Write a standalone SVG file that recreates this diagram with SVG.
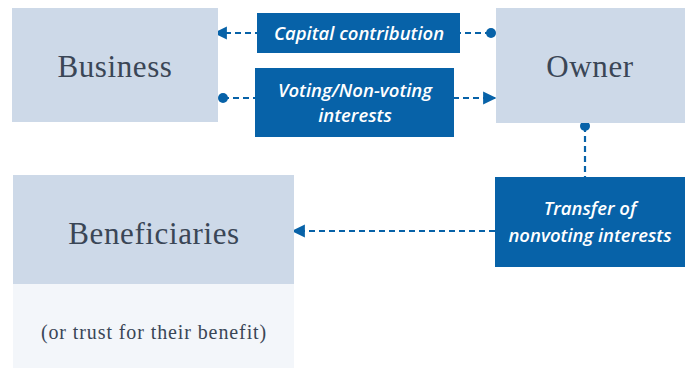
<svg xmlns="http://www.w3.org/2000/svg" width="689" height="368" viewBox="0 0 689 368">
  <style>
    .entity { fill: #cdd9e8; }
    .entity-sub { fill: #f3f6fa; }
    .flow { fill: #0762a8; }
    .entity-label { font-family: "Liberation Serif", "DejaVu Serif", serif; font-size: 31px; letter-spacing: 0.6px; fill: #3a4656; text-anchor: middle; }
    .entity-note { font-family: "Liberation Serif", "DejaVu Serif", serif; font-size: 20px; letter-spacing: 0.9px; fill: #3a4656; text-anchor: middle; }
    .flow-label { font-family: "Open Sans", "Liberation Sans", sans-serif; font-size: 18.5px; font-weight: 600; font-style: italic; fill: #ffffff; text-anchor: middle; }
    .link { stroke: #0762a8; stroke-width: 2.2; stroke-dasharray: 6 4; fill: none; }
    .dot { fill: #0762a8; }
  </style>
  <defs>
    <marker id="arrow" viewBox="0 0 10 10" refX="9" refY="5" markerWidth="6" markerHeight="6" orient="auto" markerUnits="strokeWidth">
      <path d="M0,0 L10,5 L0,10 z" fill="#0762a8"/>
    </marker>
  </defs>

  <rect width="689" height="368" fill="#ffffff"/>

  <g id="connectors">
    <!-- Owner to Business: capital contribution -->
    <line class="link" x1="491" y1="33" x2="215" y2="33" marker-end="url(#arrow)"/>
    <circle class="dot" cx="491" cy="33" r="5"/>
    <!-- Business to Owner: voting / non-voting interests -->
    <line class="link" x1="223" y1="98" x2="495" y2="98" marker-end="url(#arrow)"/>
    <circle class="dot" cx="223" cy="98" r="5"/>
    <!-- Owner down to the transfer box -->
    <line class="link" x1="585" y1="126" x2="585" y2="177"/>
    <circle class="dot" cx="585" cy="126" r="5"/>
    <!-- Transfer box to Beneficiaries -->
    <line class="link" x1="495" y1="231" x2="293" y2="231" marker-end="url(#arrow)"/>
  </g>

  <g id="business">
    <rect class="entity" x="12" y="8" width="206" height="114"/>
    <text class="entity-label" x="115" y="77">Business</text>
  </g>

  <g id="owner">
    <rect class="entity" x="496" y="8" width="189" height="115"/>
    <text class="entity-label" x="590" y="77">Owner</text>
  </g>

  <g id="beneficiaries">
    <rect class="entity" x="13" y="175" width="281" height="109"/>
    <rect class="entity-sub" x="13" y="284" width="281" height="84"/>
    <text class="entity-label" x="154" y="244">Beneficiaries</text>
    <text class="entity-note" x="154" y="339">(or trust for their benefit)</text>
  </g>

  <g id="capital-contribution">
    <rect class="flow" x="257" y="13" width="203" height="40"/>
    <text class="flow-label" x="359" y="40">Capital contribution</text>
  </g>

  <g id="voting-interests">
    <rect class="flow" x="255" y="68" width="199" height="69"/>
    <text class="flow-label" x="355" y="97">Voting/Non-voting</text>
    <text class="flow-label" x="355" y="122">interests</text>
  </g>

  <g id="transfer">
    <rect class="flow" x="495" y="177" width="190" height="90"/>
    <text class="flow-label" x="590" y="215">Transfer of</text>
    <text class="flow-label" x="590" y="242">nonvoting interests</text>
  </g>
</svg>
